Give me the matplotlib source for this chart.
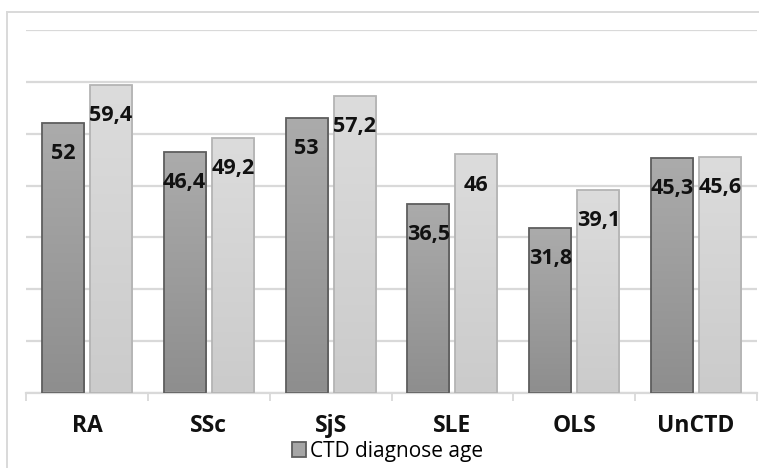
import matplotlib
matplotlib.use("Agg")
import matplotlib.pyplot as plt
import numpy as np
from matplotlib.lines import Line2D
from matplotlib.patches import Patch

categories = ["RA", "SSc", "SjS", "SLE", "OLS", "UnCTD"]
diagnose_age = [52, 46.4, 53, 36.5, 31.8, 45.3]
second_age = [59.4, 49.2, 57.2, 46, 39.1, 45.6]
legend_label = "CTD diagnose age"

W, H = 759, 468
fig = plt.figure(figsize=(W / 100, H / 100), dpi=100)
ax = fig.add_axes([26 / W, 1 - 393 / H, (757 - 26) / W, (393 - 30) / H])

FONT = ["Open Sans", "DejaVu Sans"]
GRID = "#d9d9d9"

x = np.arange(len(categories))
bw = 0.345
off = 0.197


def fmt(v):
    return f"{v:g}".replace(".", ",")


def gradient_bars(rects, top_col, bot_col):
    c_top = np.array(matplotlib.colors.to_rgb(top_col))
    c_bot = np.array(matplotlib.colors.to_rgb(bot_col))
    t = np.linspace(0, 1, 64)[:, None]
    img = (c_top * (1 - t) + c_bot * t)[:, None, :]
    for r in rects:
        x0, y0 = r.get_x(), r.get_y()
        w, h = r.get_width(), r.get_height()
        im = ax.imshow(img, extent=(x0, x0 + w, y0, y0 + h), aspect="auto",
                       origin="upper", zorder=2, interpolation="bilinear")
        im.set_clip_path(r)


b1 = ax.bar(x - off, diagnose_age, bw, color="#a0a0a0", edgecolor="#5e5e5e",
            linewidth=1.3, zorder=3)
b2 = ax.bar(x + off, second_age, bw, color="#d6d6d6", edgecolor="#b4b4b4",
            linewidth=1.3, zorder=3)
for r in list(b1) + list(b2):
    r.set_facecolor("none")
gradient_bars(b1, "#ababab", "#8e8e8e")
gradient_bars(b2, "#dcdcdc", "#cbcbcb")

for bars, vals in ((b1, diagnose_age), (b2, second_age)):
    for r, v in zip(bars, vals):
        ax.annotate(fmt(v), (r.get_x() + r.get_width() / 2, v),
                    xytext=(0, -26), textcoords="offset points",
                    ha="center", va="baseline", fontsize=15.5,
                    fontweight="bold", family=FONT, color="#111111", zorder=5)

ax.set_xlim(-0.5, len(categories) - 0.5)
ax.set_ylim(0, 70)
ax.set_yticks(np.arange(0, 71, 10))
ax.yaxis.grid(True, color=GRID, linewidth=1.6, zorder=0)
ax.set_axisbelow(True)
ax.tick_params(axis="y", length=0, labelleft=False)

# category names below the baseline
ax.set_xticks(x)
ax.set_xticklabels([])
for xi, name in zip(x, categories):
    ax.annotate(name, (xi, 0), xycoords=("data", "axes fraction"),
                xytext=(0, -28), textcoords="offset points",
                ha="center", va="baseline", fontsize=16.5, fontweight="bold",
                family=FONT, color="#111111", annotation_clip=False)
ax.set_xticks(np.arange(-0.5, len(categories), 1), minor=True)
ax.tick_params(axis="x", which="major", length=0)
ax.tick_params(axis="x", which="minor", length=6, width=1.3, color=GRID)

for s in ("top", "right", "left"):
    ax.spines[s].set_visible(False)
ax.spines["bottom"].set_color(GRID)
ax.spines["bottom"].set_linewidth(1.6)

# outer chart frame (left and top edges)
fig.add_artist(Line2D([7 / W, 7 / W], [0, 1 - 12 / H], color=GRID,
                      linewidth=1.4, transform=fig.transFigure))
fig.add_artist(Line2D([7 / W, 1], [1 - 12 / H, 1 - 12 / H], color=GRID,
                      linewidth=1.4, transform=fig.transFigure))

handle = Patch(facecolor="#a6a6a6", edgecolor="#5e5e5e", linewidth=1.3)
fig.legend([handle], [legend_label], loc="center",
           bbox_to_anchor=(0.5 + 8 / W, 1 - 451 / H), frameon=False,
           prop={"family": FONT, "size": 15}, handlelength=0.7,
           handleheight=0.7, handletextpad=0.2, borderpad=0)

fig.savefig("out.png", dpi=100)
